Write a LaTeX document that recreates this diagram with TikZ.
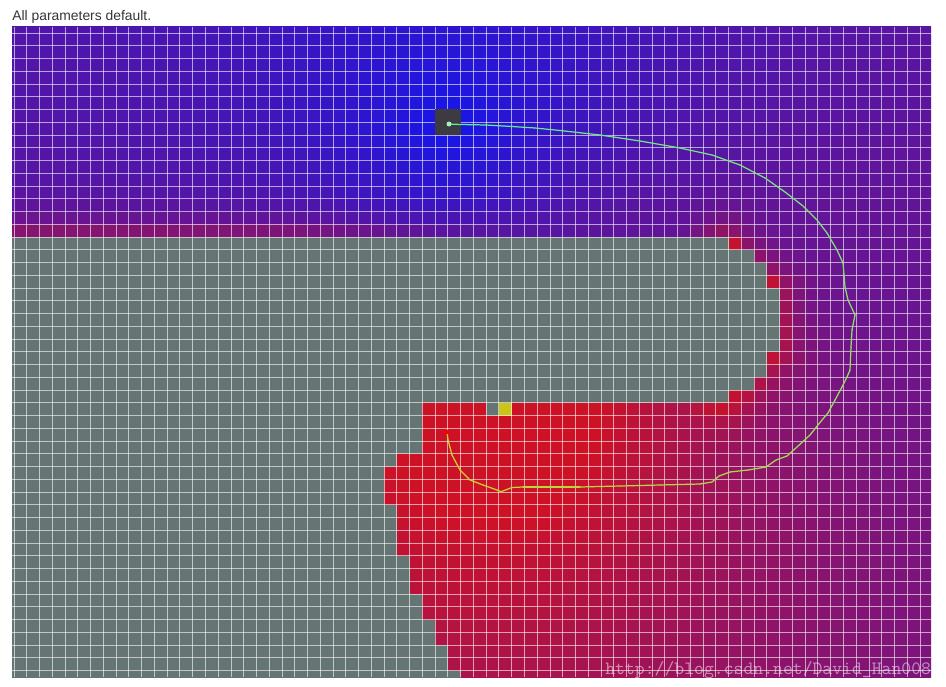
\documentclass[tikz,border=0pt]{standalone}
\usepackage{fontspec}
\setmainfont{Liberation Sans}

\definecolor{coldc}{RGB}{22,22,232}
\definecolor{hotc}{RGB}{205,18,38}
\definecolor{wallc}{RGB}{101,117,116}
\definecolor{goalc}{RGB}{205,195,25}
\definecolor{startc}{RGB}{62,58,66}
\definecolor{trailA}{RGB}{95,235,150}
\definecolor{trailB}{RGB}{205,210,40}
\definecolor{textc}{RGB}{55,55,55}

\def\wallrows{{-2,-2,-2,-2,-2,-2,-2,-2,-2,-2,-2,-2,-2,-2,-2,-2,-2,55,57,58,58,59,59,59,59,59,58,58,57,55,31,31,31,31,29,28,28,28,29,29,29,29,30,30,30,31,31,32,32,33,33,34}}

\newcommand\gcost[2]{%
  \pgfmathtruncatemacro\vis{(#2<23.7)||((#1-44.79)*11.475-(#2-12.225)*28.07>=0)}%
  \ifnum\vis=1
    \pgfmathsetmacro\gval{veclen(#1-44.79,#2-12.225)}%
  \else
    \pgfmathtruncatemacro\vis{(#1-72.86)-(#2-23.7)>=0}%
    \ifnum\vis=1
      \pgfmathsetmacro\gval{30.33+veclen(#1-72.86,#2-23.7)}%
    \else
      \pgfmathtruncatemacro\vis{#1>=77.96}%
      \ifnum\vis=1
        \pgfmathsetmacro\gval{37.54+veclen(#1-77.96,#2-28.8)}%
      \else
        \pgfmathtruncatemacro\vis{(#1-77.96)+(#2-35.175)>=0}%
        \ifnum\vis=1
          \pgfmathsetmacro\gval{43.915+veclen(#1-77.96,#2-35.175)}%
        \else
          \pgfmathsetmacro\gval{51.125+veclen(#1-72.86,#2-40.275)}%
        \fi
      \fi
    \fi
  \fi}

\newcommand\cellcost[2]{%
  \gcost{#1}{#2}%
  \pgfmathsetmacro\hval{veclen(#1-50.47,#2-40.91)}%
  \pgfmathsetmacro\dob{max(23.7-#2,((#1-72.86)-(#2-23.7))/1.414,#1-77.96,((#1-77.96)+(#2-35.175))/1.414,#2-40.275)}%
  \pgfmathsetmacro\near{max(min(1,max(0,(55-#1)/25)),min(1,max(0,(#1-68)/4)))}%
  \pgfmathsetmacro\tr{\gval/(\gval+\hval)}%
  \pgfmathsetmacro\tp{100*min(1,\tr^1.3+0.5*max(0,\tr-0.55)+0.25*\near*exp(-(min(max(\dob,0.64),8)-0.64)/1.4))}%
}

\begin{document}
\begin{tikzpicture}[x=0.02cm,y=-0.02cm,
gridline/.style={white,opacity=0.6,line width=0.45pt},
trail/.style={line width=0.7pt,line cap=round}]

\useasboundingbox (0,0) rectangle (946,686);
\fill[white] (0,0) rectangle (946,686);

\node[anchor=base west,inner sep=0pt,text=textc,font=\fontsize{7.9pt}{9pt}\selectfont] (title) at (12,21) {All parameters default.};

\begin{scope}
\clip (12,27) rectangle (931,677);
\foreach \j in {0,...,51}{
  \pgfmathtruncatemacro\lim{\wallrows[\j]}
  \foreach \i in {-1,...,71}{
    \ifnum\i>\lim
      \pgfmathsetmacro\cx{1.4+1.276*(\i+0.5)}
      \pgfmathsetmacro\cy{2.025+1.275*(\j+0.5)}
      \cellcost{\cx}{\cy}
      \colorlet{cellc}{hotc!\tp!coldc}
    \else
      \colorlet{cellc}{wallc}
    \fi
    \fill[cellc] (14+12.76*\i,20.25+12.75*\j) rectangle ++(12.76,12.75);
  }
}
\fill[wallc] (14+12.76*37,20.25+12.75*30) rectangle ++(12.76,12.75);
\fill[goalc] (14+12.76*38,20.25+12.75*30) rectangle ++(12.76,12.75);

\foreach \k in {0,...,71}
  \draw[gridline] (14+12.76*\k,27) -- (14+12.76*\k,677);
\foreach \k in {1,...,51}
  \draw[gridline] (12,20.25+12.75*\k) -- (931,20.25+12.75*\k);

\fill[startc] (14+12.76*33,20.25+12.75*7) rectangle ++(25.52,25.5);

\node[anchor=base west,inner sep=0pt,text=white,text opacity=0.5,font=\ttfamily\fontsize{10.7pt}{12pt}\selectfont] (mark) at (605,674) {http://blog.csdn.net/David\_Han008};
\end{scope}

\coordinate (start) at (449,124);
\coordinate (finish) at (447,432);
\foreach \x/\y [count=\k, remember=\x as \lx (initially 449), remember=\y as \ly (initially 124)] in {461/124.5,486/125,512/126.5,535/128,560/130.5,600/135,640/141,680/148,712/155,740/165,765/178,785/192,803/206,817/220,827/233,837/250,843/263,845/287,848/300,855/315,852/330,851/347,850/370,847/377,842/387,835/400,828/413,822/420,810/435,797/447,787/456,776/460,766/467,748/470,730/472,719/476,712/482,700/484,660/485,620/486,580/487,540/487,523/487,512/487.5,501/491.7,497/490,483/485,470/480,460/470,452/455,448/440,447/432}{
  \pgfmathsetmacro\pc{100*\k/52}
  \draw[trail,trailB!\pc!trailA] (\lx,\ly) -- (\x,\y);
}
\fill[trailA!60!white] (start) circle (2.5);
\fill[red] (finish) circle (2.2);
\end{tikzpicture}
\end{document}
